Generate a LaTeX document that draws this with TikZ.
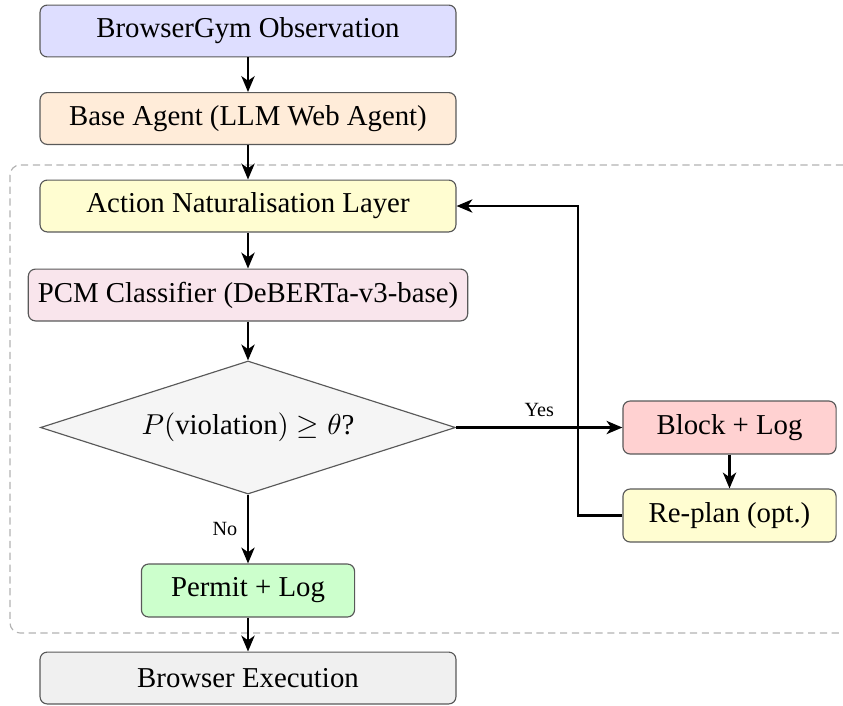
\documentclass[tikz,border=0pt]{standalone}
\usepackage{fontspec}
\setmainfont{Liberation Serif}
\usetikzlibrary{shapes.geometric,arrows.meta}
\begin{document}
\begin{tikzpicture}[x=0.3472pt,y=-0.3472pt,
  box/.style={draw=black!65, rounded corners=2.5pt, minimum width=144.4pt, minimum height=18pt, inner sep=3.33pt},
  smallbox/.style={box, minimum width=74pt, minimum height=18.4pt},
  flow/.style={-{Stealth[length=5.5pt,width=4.6pt,inset=1.6pt]}, thick},
  lbl/.style={font=\scriptsize},
  region/.style={black!30, dash pattern=on 2.5pt off 1.6pt, rounded corners=3.5pt}]
\useasboundingbox (0,0) rectangle (843,705);
\draw[region] (843,165) -- (10,165) -- (10,633) -- (843,633);
\node[box, fill=blue!13] (obs) at (248,31) {BrowserGym Observation};
\node[box, fill=orange!15] (base) at (248,118.5) {Base Agent (LLM Web Agent)};
\node[box, fill=yellow!18] (anl) at (248,206) {Action Naturalisation Layer};
\node[box, fill=purple!10] (pcm) at (248,295) {PCM Classifier (DeBERTa-v3-base)};
\node[diamond, aspect=3.12, draw=black!65, fill=gray!8, minimum width=144.1pt, minimum height=46.2pt, inner sep=0pt] (dec) at (248,427.5) {$P(\mathrm{violation}) \geq \theta$?};
\node[smallbox, fill=green!20] (permit) at (248,590.5) {Permit + Log};
\node[box, fill=gray!12] (exec) at (248,678) {Browser Execution};
\node[smallbox, fill=red!18] (block) at (729.5,427.5) {Block + Log};
\node[smallbox, fill=yellow!18] (replan) at (729.5,515.5) {Re-plan (opt.)};
\coordinate (fbx) at (578,0);
\draw[flow] (obs) -- (base);
\draw[flow] (base) -- (anl);
\draw[flow] (anl) -- (pcm);
\draw[flow] (pcm) -- (dec);
\draw[flow] (dec) -- node[lbl, left] {No} (permit);
\draw[flow] (permit) -- (exec);
\draw[flow] (dec) -- node[lbl, above] {Yes} (block);
\draw[flow] (block) -- (replan);
\draw[flow] (replan.west) -- (replan.west -| fbx) |- (anl.east);
\end{tikzpicture}
\end{document}
